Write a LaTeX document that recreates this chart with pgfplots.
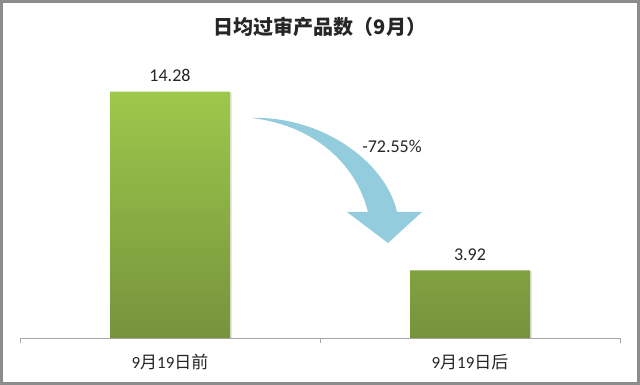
\documentclass[border=0pt]{standalone}
\usepackage{fontspec}
\setmainfont{Carlito}
\newfontfamily\cjk{Noto Sans CJK SC}
\usepackage{pgfplots}
\pgfplotsset{compat=1.18}
\usetikzlibrary{shadows}

\definecolor{barTop}{HTML}{9DC84B}
\definecolor{barBot}{HTML}{76933C}
\definecolor{arrowBlue}{HTML}{93CDDD}
\definecolor{frameGray}{HTML}{8C8C8C}
\definecolor{axisGray}{HTML}{A6A6A6}
\definecolor{txt}{HTML}{262626}

\begin{document}
\begin{tikzpicture}[x=1pt,y=1pt]
\useasboundingbox (0,0) rectangle (640,385);
\fill[white] (0,0) rectangle (640,385);

\begin{axis}[
  at={(20pt,47pt)}, anchor=south west,
  scale only axis, width=600pt, height=276pt,
  xmin=-0.5, xmax=1.5, ymin=0, ymax=16,
  hide y axis,
  axis x line*=bottom,
  x axis line style={draw=axisGray, line width=0.8pt, -},
  xtick={0,1},
  xticklabels={{9{\cjk 月}19{\cjk 日前}}, {9{\cjk 月}19{\cjk 日后}}},
  major tick length=0pt,
  extra x ticks={-0.5,0.5,1.5},
  extra x tick labels={},
  extra x tick style={major tick length=5pt, tick align=outside,
    tick style={draw=axisGray, line width=0.8pt}},
  xticklabel style={font=\fontsize{17}{20}\selectfont, text=txt,
    anchor=north, inner sep=0pt, yshift=-16pt},
  ybar, bar width=120pt,
  nodes near coords,
  every node near coord/.append style={font=\fontsize{18}{21}\selectfont,
    text=txt, inner sep=0pt, yshift=10pt},
  /pgf/number format/.cd, fixed, precision=2, assume math mode=true,
]
\addplot[draw=none, top color=barTop, bottom color=barBot,
  drop shadow={shadow xshift=1.5pt, shadow yshift=-1pt, opacity=0.15}]
  coordinates {(0,14.28) (1,3.92)};
\end{axis}

% curved arrow showing the drop
\fill[arrowBlue] (252,267)
  .. controls (320,269) and (385,225) .. (397,173)
  -- (422,173) -- (388,142) -- (347,173) -- (368,173)
  .. controls (355,225) and (310,260) .. (252,267) -- cycle;
\node[font=\fontsize{18}{21}\selectfont, text=txt] at (392,239) {-72.55\%};

% title
\node[font=\cjk\bfseries\fontsize{20}{24}\selectfont, text=txt] at (320,358)
  {日均过审产品数（9月）};

% outer frame
\draw[frameGray, line width=3pt] (1.5,1.5) rectangle (638.5,383.5);
\end{tikzpicture}
\end{document}
